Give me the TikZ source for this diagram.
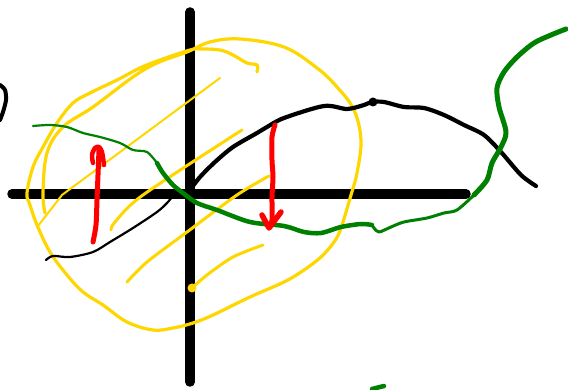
\documentclass[tikz,border=0pt]{standalone}
\usepackage{xcolor}
\definecolor{penblack}{RGB}{0,0,0}
\definecolor{pengreen}{RGB}{0,128,0}
\definecolor{penyellow}{RGB}{255,215,0}
\definecolor{penred}{RGB}{255,0,0}
\usetikzlibrary{calc}
\tikzset{
  axisline/.style={draw=penblack, line width=9.5pt, line cap=round},
  blackpen/.style={draw=penblack, line width=#1, line cap=round, line join=round},
  greenpen/.style={draw=pengreen, line width=#1, line cap=round, line join=round},
  yellowpen/.style={draw=penyellow, line width=#1, line cap=round, line join=round},
  redpen/.style={draw=penred, line width=#1, line cap=round, line join=round},
}

\begin{document}
\begin{tikzpicture}[x=1pt, y=-1pt]
\useasboundingbox (0,0) rectangle (568,390);
\fill[white] (0,0) rectangle (568,390);

% Axes
\draw[axisline] (190,12) -- (190,382);
\draw[axisline] (12,194) -- (466,194);

% Yellow loop
\draw[yellowpen=3.2pt] plot[smooth, tension=0.6] coordinates {
  (257,72) (257,65) (247,63) (233,55) (220,50) (200,49) (190,50) (160,60)
  (140,68) (117,80) (90,93) (73,103) (57,123) (43,147) (33,167) (27,193)
  (30,205) (37,225) (50,252) (67,275) (83,292) (103,305) (127,322) (153,330)
  (173,328) (193,323) (213,315) (250,297) (284,282) (304,270) (321,257)
  (334,242) (341,228) (351,195) (357,173) (361,140) (354,110) (337,87)
  (317,68) (284,47) (240,39) (210,42) (187,52) (157,63) (133,77) (93,107)
  (63,127) (47,153) (43,193) (45,213)};

% Yellow strokes
\draw[yellowpen=2pt] (220,78) -- (62,195) -- (38,226);
\draw[yellowpen=3pt] plot[smooth] coordinates {(242,130) (143,195) (115,222) (111,230)};
\draw[yellowpen=3pt] plot[smooth] coordinates {(269,176) (237,195) (187,232) (147,262) (127,282)};
\draw[yellowpen=3pt] plot[smooth] coordinates {(192,288) (207,275) (233,257) (263,245)};
\fill[penyellow] (192,288) circle (4.5);

% Black curve
\draw[blackpen=2.2pt] plot[smooth] coordinates {
  (46,260) (53,256) (70,257) (93,252) (110,242) (133,228) (157,212) (167,203)
  (175,194) (183,190)};
\draw[blackpen=4.2pt] plot[smooth] coordinates {
  (190,190) (200,177) (215,162) (233,147) (257,133) (267,127) (284,118)
  (324,106) (347,109) (364,105) (372,102) (384,102) (404,107) (424,108)
  (444,115) (464,125) (484,135) (501,152) (521,175) (536,186)};
\fill[penblack] (373,102) circle (4.5);
\draw[blackpen=4pt] plot[smooth] coordinates {(0,85) (5,90) (6,100) (3,112) (0,120)};

% Green curve
\draw[greenpen=2.2pt] plot[smooth] coordinates {
  (33,126) (50,125) (67,127) (83,133) (100,137) (120,143) (133,150) (147,152)
  (157,163)};
\draw[greenpen=4.5pt] plot[smooth] coordinates {
  (157,163) (163,173) (173,185) (183,193) (197,203) (217,210) (250,222)
  (284,226) (304,232) (321,233) (341,227) (361,224) (372,225)};
\draw[greenpen=3pt] plot[smooth] coordinates {
  (372,225) (374,228) (379,232) (391,227) (404,222) (427,218) (444,213)
  (457,210) (474,195)};
\draw[greenpen=5pt] plot[smooth] coordinates {
  (474,195) (487,180) (492,163) (501,147) (506,132) (499,107) (497,88)
  (504,72) (517,57) (534,43) (551,35) (566,29)};
\draw[greenpen=4.5pt] (372,389) -- (384,386);

% Red arrows
\draw[redpen=5pt] plot[smooth] coordinates {
  (93,242) (96,225) (97,200) (98,175) (99,150)};
\draw[redpen=4.5pt] plot[smooth] coordinates {
  (93,163) (92,155) (95,148) (99,147) (102,152) (104,165)};
\draw[redpen=5pt] plot[smooth] coordinates {
  (275,125) (272,137) (272,160) (273,177) (272,197) (272,220) (269,227)};
\draw[redpen=5.5pt] (262,215) -- (269,228) -- (281,212);
\end{tikzpicture}
\end{document}
